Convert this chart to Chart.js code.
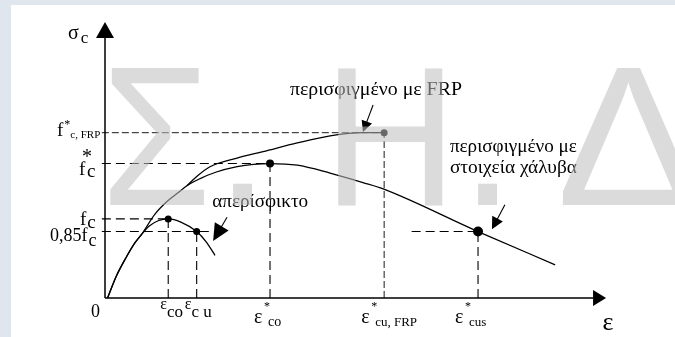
<!DOCTYPE html>
<html>
<head>
<meta charset="utf-8">
<script src="https://cdn.jsdelivr.net/npm/chart.js@4.4.1/dist/chart.umd.min.js"></script>
<style>
html, body { margin: 0; padding: 0; background: #dfe6ee; }
canvas { display: block; }
</style>
</head>
<body>
<canvas id="chart" width="675" height="337"></canvas>
<script>
// ε (οριζόντια) και σc (κατακόρυφα), τάσεις ως προς fc
const uncStrain = [0.08, 0.35, 0.65, 0.95, 1.15, 1.4, 1.7, 2.0, 2.4, 2.9, 3.2, 3.48];
const uncStress = [0.0, 0.27, 0.50, 0.70, 0.80, 0.91, 0.98, 1.0, 0.96, 0.84, 0.71, 0.54];

const steelStrain = [0.08, 0.35, 0.65, 0.95, 1.15, 1.58, 1.96, 2.31, 2.59, 3.01, 3.5, 4.18, 4.7, 5.22, 6.08, 7.12, 8.16, 8.8, 11.8, 14.24];
const steelStress = [0.0, 0.27, 0.50, 0.70, 0.80, 1.06, 1.22, 1.33, 1.42, 1.51, 1.59, 1.66, 1.69, 1.70, 1.68, 1.58, 1.46, 1.38, 0.84, 0.42];

const frpStrain = [2.59, 2.91, 3.32, 4.18, 5.0, 6.08, 7.12, 8.16, 8.83];
const frpStress = [1.42, 1.54, 1.66, 1.77, 1.85, 1.96, 2.05, 2.09, 2.09];

// χαρακτηριστικά σημεία: εco, εcu, ε*co, ε*cu,FRP, ε*cus
const strainTicks = [2.0, 2.9, 5.22, 8.83, 11.8];
// fc, 0,85fc, f*c, f*c,FRP
const stressTicks = [1.0, 0.84, 1.70, 2.09];

const markStrain = [2.0, 2.9, 5.22, 8.83, 11.8];
const markStress = [1.0, 0.84, 1.70, 2.09, 0.84];

const curveNames = ['απερίσφικτο', 'περισφιγμένο με FRP', 'περισφιγμένο με', 'στοιχεία χάλυβα'];

const serif = '"Liberation Serif", "Times New Roman", serif';

function pts(xs, ys) {
    return xs.map((x, i) => ({ x: x, y: ys[i] }));
}

function curve(xs, ys) {
    return {
        data: pts(xs, ys),
        showLine: true,
        borderColor: '#000',
        borderWidth: 1.3,
        pointRadius: 0,
        tension: 0.4,
        cubicInterpolationMode: 'monotone',
        clip: false
    };
}

function guide(data, thin) {
    return {
        data: data,
        showLine: true,
        borderColor: '#000',
        borderWidth: thin ? 0.9 : 1.1,
        borderDash: thin ? [7, 3] : [9, 5],
        pointRadius: 0,
        tension: 0,
        clip: false
    };
}

const datasets = [
    // οριζόντιες διακεκομμένες
    guide([{ x: -0.1, y: stressTicks[3] }, { x: strainTicks[3], y: stressTicks[3] }], true),
    guide([{ x: -0.1, y: stressTicks[2] }, { x: strainTicks[2], y: stressTicks[2] }]),
    guide([{ x: -0.1, y: stressTicks[0] }, { x: strainTicks[0], y: stressTicks[0] }]),
    guide([{ x: -0.1, y: stressTicks[1] }, { x: 3.42, y: stressTicks[1] }]),
    guide([{ x: 9.7, y: markStress[4] }, { x: strainTicks[4], y: markStress[4] }]),
    // κατακόρυφες διακεκομμένες
    guide([{ x: strainTicks[0], y: 0 }, { x: strainTicks[0], y: markStress[0] }]),
    guide([{ x: strainTicks[1], y: 0 }, { x: strainTicks[1], y: markStress[1] }]),
    guide([{ x: strainTicks[2], y: 0 }, { x: strainTicks[2], y: markStress[2] }]),
    guide([{ x: strainTicks[3], y: 0 }, { x: strainTicks[3], y: markStress[3] }], true),
    guide([{ x: strainTicks[4], y: 0 }, { x: strainTicks[4], y: markStress[4] }]),
    // καμπύλες
    curve(uncStrain, uncStress),
    curve(steelStrain, steelStress),
    curve(frpStrain, frpStress),
    {
        data: pts(markStrain, markStress),
        showLine: false,
        pointRadius: ctx => [3.5, 3.5, 4, 3.5, 5][ctx.dataIndex],
        pointBackgroundColor: '#000',
        pointBorderWidth: 0,
        clip: false
    }
];

function text(ctx, parts, x) {
    // parts: [κείμενο, μέγεθος, baseline]
    parts.forEach(p => {
        ctx.font = p[1] + 'px ' + serif;
        ctx.fillText(p[0], x, p[2]);
        x += ctx.measureText(p[0]).width + (p[3] || 0);
    });
}

// κείμενο τεντωμένο ώστε να πιάνει το πλάτος της εικόνας
function fitText(ctx, str, x, y, width) {
    ctx.font = '18px ' + serif;
    const w = ctx.measureText(str).width;
    ctx.save();
    ctx.translate(x, y);
    ctx.scale(width / w, 1);
    ctx.fillText(str, 0, 0);
    ctx.restore();
}

function arrowHead(ctx, x1, y1, x2, y2, len, half) {
    const a = Math.atan2(y2 - y1, x2 - x1);
    const bx = x2 - len * Math.cos(a), by = y2 - len * Math.sin(a);
    ctx.beginPath();
    ctx.moveTo(x2, y2);
    ctx.lineTo(bx + half * Math.sin(a), by - half * Math.cos(a));
    ctx.lineTo(bx - half * Math.sin(a), by + half * Math.cos(a));
    ctx.closePath();
    ctx.fill();
}

function arrow(ctx, x1, y1, x2, y2, len, half) {
    const a = Math.atan2(y2 - y1, x2 - x1);
    ctx.beginPath();
    ctx.moveTo(x1, y1);
    ctx.lineTo(x2 - len * 0.8 * Math.cos(a), y2 - len * 0.8 * Math.sin(a));
    ctx.stroke();
    arrowHead(ctx, x1, y1, x2, y2, len, half);
}

const diagram = {
    id: 'diagram',
    beforeDraw(chart) {
        const ctx = chart.ctx;
        ctx.save();
        ctx.fillStyle = '#dfe6ee';
        ctx.fillRect(0, 0, chart.width, chart.height);
        ctx.fillStyle = '#ffffff';
        ctx.fillRect(11, 5, chart.width - 11, chart.height - 5);
        ctx.restore();
    },
    afterDatasetsDraw(chart) {
        const ctx = chart.ctx;
        const sx = v => chart.scales.x.getPixelForValue(v);
        const sy = v => chart.scales.y.getPixelForValue(v);
        const x0 = sx(0), y0 = sy(0);

        ctx.save();
        ctx.strokeStyle = '#000';
        ctx.fillStyle = '#000';

        // άξονες
        ctx.lineWidth = 1.5;
        ctx.beginPath();
        ctx.moveTo(x0, y0);
        ctx.lineTo(x0, sy(3.29));
        ctx.moveTo(x0, y0);
        ctx.lineTo(sx(15.44), y0);
        ctx.stroke();
        arrowHead(ctx, x0, y0, x0, sy(3.49), 16, 9);
        arrowHead(ctx, x0, y0, sx(15.85), y0, 13, 8);

        // βέλη καμπυλών
        ctx.lineWidth = 1.1;
        arrow(ctx, sx(3.86), sy(1.02), sx(3.42), sy(0.72), 17, 8);
        arrow(ctx, sx(8.48), sy(2.44), sx(8.16), sy(2.10), 11, 5.5);
        arrow(ctx, sx(12.65), sy(1.18), sx(12.24), sy(0.87), 12, 6);

        ctx.textBaseline = 'alphabetic';
        ctx.textAlign = 'left';

        // ονόματα καμπυλών
        fitText(ctx, curveNames[0], sx(3.39), sy(1.15), 96);
        fitText(ctx, curveNames[1], sx(5.85), sy(2.57), 172);
        fitText(ctx, curveNames[2], sx(10.91), sy(1.85), 127);
        fitText(ctx, curveNames[3], sx(10.91), sy(1.58), 127);

        // άξονας σ
        text(ctx, [['σ', 20, sy(3.29) + 1, 2], ['c', 17, sy(3.29) + 5]], x0 - 37);
        text(ctx, [['ε', 26, y0 + 32]], sx(15.8) - 2);
        text(ctx, [['0', 18, y0 + 19]], x0 - 14);

        // ετικέτες τάσεων
        let p = sy(stressTicks[3]);
        text(ctx, [['f', 19, p + 3, 1], ['*', 12, p - 5], ['c, FRP', 11, p + 5]], x0 - 48);
        p = sy(stressTicks[2]);
        text(ctx, [['f', 19, p + 11]], x0 - 26);
        text(ctx, [['*', 20, p - 1]], x0 - 23);
        text(ctx, [['c', 19, p + 13]], x0 - 18);
        p = sy(stressTicks[0]);
        text(ctx, [['f', 19, p + 6, 1], ['c', 19, p + 9]], x0 - 25);
        p = sy(stressTicks[1]);
        text(ctx, [['0,85f', 18, p + 9.5, 1], ['c', 18, p + 14]], x0 - 55);

        // ετικέτες παραμορφώσεων
        p = sx(strainTicks[0]);
        text(ctx, [['ε', 16, y0 + 11], ['co', 17, y0 + 19]], p - 8);
        p = sx(strainTicks[1]);
        text(ctx, [['ε', 16, y0 + 11], ['c u', 17, y0 + 19]], p - 12);
        [[strainTicks[2], 'co', 14], [strainTicks[3], 'cu, FRP', 13], [strainTicks[4], 'cus', 13]].forEach(t => {
            const q = sx(t[0]);
            const dx = t[1] === 'co' ? 16 : 23;
            text(ctx, [['ε', 20, y0 + 25]], q - dx);
            text(ctx, [['*', 12, y0 + 12]], q - (dx - 10));
            text(ctx, [[t[1], t[2], y0 + 28]], q - (dx - 14));
        });
        ctx.restore();
    },
    afterDraw(chart) {
        // υδατογράφημα Σ.Η.Δ
        const ctx = chart.ctx;
        const marks = [['Σ', 110, 204], ['.', 233, 253], ['Η', 338, 443], ['.', 478, 498], ['Δ', 562, 694]];
        ctx.save();
        ctx.font = '100px "Liberation Sans", Arial, sans-serif';
        const cap = ctx.measureText('Η').actualBoundingBoxAscent;
        ctx.font = (137 / cap * 100) + 'px "Liberation Sans", Arial, sans-serif';
        ctx.fillStyle = 'rgba(190, 190, 190, 0.55)';
        ctx.textBaseline = 'alphabetic';
        marks.forEach(m => {
            const mt = ctx.measureText(m[0]);
            const w = mt.actualBoundingBoxLeft + mt.actualBoundingBoxRight;
            ctx.save();
            ctx.translate(m[1], 205);
            ctx.scale((m[2] - m[1]) / w, 1);
            ctx.fillText(m[0], mt.actualBoundingBoxLeft, 0);
            ctx.restore();
        });
        ctx.restore();
    }
};

new Chart(document.getElementById('chart').getContext('2d'), {
    type: 'scatter',
    data: { datasets: datasets },
    options: {
        responsive: false,
        animation: false,
        devicePixelRatio: 1,
        layout: { padding: { left: 105, right: 80, top: 37, bottom: 39 } },
        plugins: { legend: { display: false }, tooltip: { enabled: false } },
        scales: {
            x: { type: 'linear', min: 0, max: 15.5, display: false },
            y: { type: 'linear', min: 0, max: 3.3, display: false }
        }
    },
    plugins: [diagram]
});
</script>
</body>
</html>
